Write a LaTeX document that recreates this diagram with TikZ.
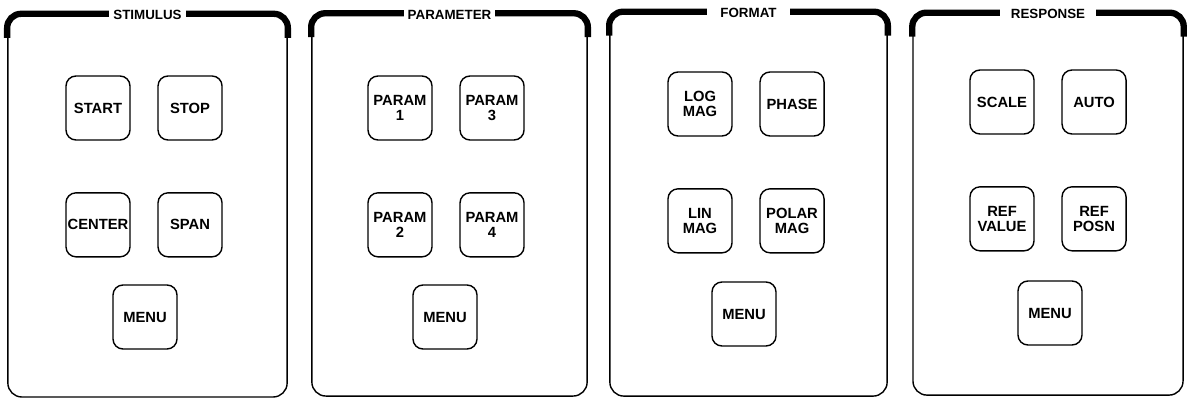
\documentclass[tikz,border=0pt]{standalone}
\usepackage{fontspec}
\setsansfont{Liberation Sans}
\usepackage{tikz}
\usetikzlibrary{positioning}
\tikzset{
    x=0.025cm, y=-0.025cm, % one unit is one pixel of the scan
    node distance=2.3cm, % centre to centre of two keys side by side
    panel/.style={draw, line width=1pt, rounded corners=0.35cm}, % the frame round one group of keys
    topbar/.style={line width=4.5pt, rounded corners=0.35cm}, % the heavy bar along the top of a frame
    caption/.style={fill=white, inner xsep=0.12cm, inner ysep=1pt, yshift=-0.04cm,
        font=\sffamily\bfseries\fontsize{9.5}{10}\selectfont}, % the title sitting in the bar
    key/.style={draw, line width=1pt, rounded corners=0.25cm, minimum width=1.6cm,
        minimum height=1.6cm, inner sep=0pt, align=center,
        font=\sffamily\bfseries\fontsize{10.5}{10.5}\selectfont}, % one push button
}

\begin{document}
\begin{tikzpicture}
    \useasboundingbox (0,0) rectangle (1187,398);

    % frames
    \node[panel, minimum width=6.98cm, minimum height=9.56cm] (stim) at (147.5,205.75) {};
    \node[panel, minimum width=6.88cm, minimum height=9.55cm] (param) at (449.5,205) {};
    \node[panel, minimum width=6.93cm, minimum height=9.59cm] (fmt) at (748.5,204.25) {};
    \node[panel, minimum width=6.75cm, minimum height=9.54cm] (resp) at (1048,204.25) {};

    \foreach \p in {stim, param, fmt, resp}
        \draw[topbar] ([yshift=-0.6cm]\p.north west) |- (\p.north) -| ([yshift=-0.6cm]\p.north east);

    \node[caption] at (stim.north) {STIMULUS};
    \node[caption, inner xsep=0.1cm] at (param.north) {PARAMETER};
    \node[caption, inner xsep=0.33cm] at (fmt.north) {FORMAT};
    \node[caption, inner xsep=0.27cm] at (resp.north) {RESPONSE};

    % stimulus keys
    \node[key] (s1) at (98,108) {START};
    \node[key, right of=s1] (s2) {STOP};
    \node[key, node distance=2.92cm, below of=s1] (s3) {CENTER};
    \node[key, right of=s3] (s4) {SPAN};
    \node[key] (s5) at (145,317) {MENU};

    % parameter keys
    \node[key] (p1) at (400,108) {PARAM\\1};
    \node[key, right of=p1] (p3) {PARAM\\3};
    \node[key, node distance=2.92cm, below of=p1] (p2) {PARAM\\2};
    \node[key, right of=p2] (p4) {PARAM\\4};
    \node[key] (p5) at (445,317) {MENU};

    % format keys
    \node[key] (f1) at (700,104) {LOG\\MAG};
    \node[key, right of=f1] (f2) {PHASE};
    \node[key, node distance=2.92cm, below of=f1] (f3) {LIN\\MAG};
    \node[key, right of=f3] (f4) {POLAR\\MAG};
    \node[key] (f5) at (744,314) {MENU};

    % response keys
    \node[key] (r1) at (1002,102) {SCALE};
    \node[key, right of=r1] (r2) {AUTO};
    \node[key, node distance=2.92cm, below of=r1] (r3) {REF\\VALUE};
    \node[key, right of=r3] (r4) {REF\\POSN};
    \node[key] (r5) at (1050,313) {MENU};
\end{tikzpicture}
\end{document}
